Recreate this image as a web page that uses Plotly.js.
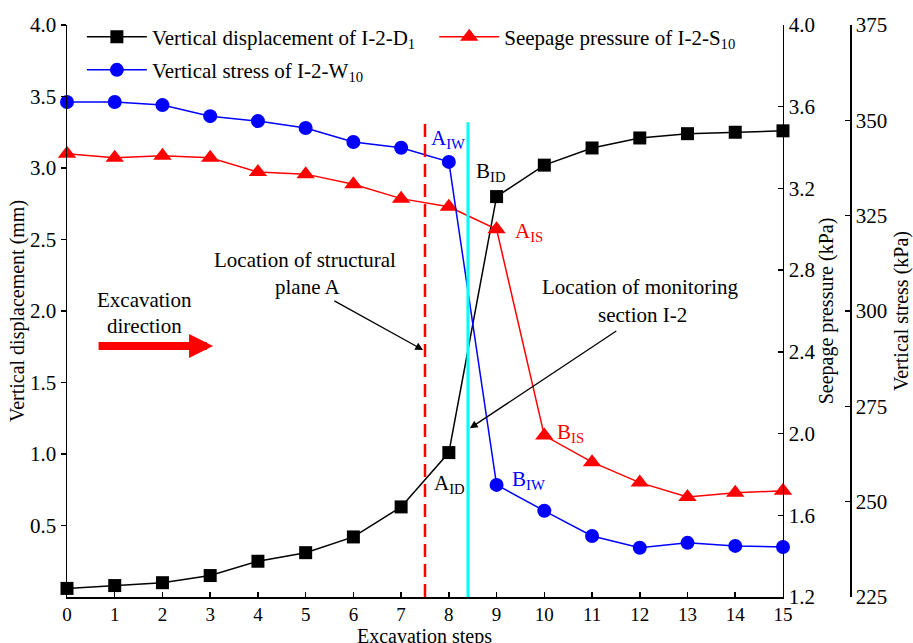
<!DOCTYPE html>
<html>
<head>
<meta charset="utf-8">
<script src="https://cdn.plot.ly/plotly-3.0.1.min.js"></script>
<style>html,body{margin:0;padding:0;background:#fff;}#chart{width:913px;height:643px;}</style>
</head>
<body>
<div id="chart"></div>
<script>
// Data
const steps = [0,1,2,3,4,5,6,7,8,9,10,11,12,13,14,15];
const displacement = [0.06,0.08,0.10,0.15,0.25,0.31,0.42,0.63,1.01,2.80,3.02,3.14,3.21,3.24,3.25,3.26];
const seepage = [3.37,3.35,3.36,3.35,3.28,3.27,3.22,3.15,3.11,3.00,1.99,1.86,1.76,1.69,1.71,1.72];
const stress = [354.8,354.8,354.0,351.1,349.8,348.0,344.3,342.8,339.1,254.4,247.6,241.0,237.9,239.2,238.4,238.1];
const seriesNames = ['Vertical displacement of I-2-D<sub>1</sub>','Seepage pressure of I-2-S<sub>10</sub>','Vertical stress of I-2-W<sub>10</sub>'];
const xTicks = [0,1,2,3,4,5,6,7,8,9,10,11,12,13,14,15];
const leftTicks = [0.5,1.0,1.5,2.0,2.5,3.0,3.5,4.0];
const seepTicks = [1.2,1.6,2.0,2.4,2.8,3.2,3.6,4.0];
const stressTicks = [225,250,275,300,325,350,375];

const F = '"Liberation Serif", "Times New Roman", serif';
const FS = 21;
const traces = [
  {x: steps, y: displacement, name: seriesNames[0], yaxis: 'y', legend: 'legend', mode: 'lines+markers',
   line: {color: '#000', width: 1.5}, marker: {symbol: 'square', size: 13, color: '#000'}, cliponaxis: false},
  {x: steps, y: seepage, name: seriesNames[1], yaxis: 'y2', legend: 'legend2', mode: 'lines+markers',
   line: {color: '#ff0000', width: 1.5}, marker: {symbol: 'triangle-up', size: 16, color: '#ff0000'}, cliponaxis: false},
  {x: steps, y: stress, name: seriesNames[2], yaxis: 'y3', legend: 'legend3', mode: 'lines+markers',
   line: {color: '#0000ff', width: 1.5}, marker: {symbol: 'circle', size: 14, color: '#0000ff'}, cliponaxis: false}
];

const axBase = {showgrid: false, zeroline: false, showline: true, linecolor: '#000', linewidth: 1.5,
  ticks: 'outside', ticklen: 5, tickwidth: 1.5, tickcolor: '#000', tickfont: {family: F, size: FS, color: '#000'}};

function ann(text, x, y, color, extra) {
  return Object.assign({text: text, x: x, y: y, xref: 'x', yref: 'y', showarrow: false,
    font: {family: F, size: FS, color: color}}, extra || {});
}
function leg(x, y) {
  return {orientation: 'h', x: x, y: y, xanchor: 'left', yanchor: 'middle', bgcolor: 'rgba(0,0,0,0)',
    font: {family: F, size: FS, color: '#000'}, borderwidth: 0, itemwidth: 60};
}

const layout = {
  width: 913, height: 643,
  margin: {l: 67, r: 63, t: 25, b: 46},
  paper_bgcolor: '#fff', plot_bgcolor: '#fff',
  font: {family: F, color: '#000'},
  showlegend: true,
  legend: leg(0.019, 0.979),
  legend2: leg(0.469, 0.979),
  legend3: leg(0.019, 0.921),
  xaxis: Object.assign({}, axBase, {domain: [0, 0.9144], range: [0, 15], tickvals: xTicks, ticks: 'inside',
    tickfont: {family: F, size: 19, color: '#000'}}),
  yaxis: Object.assign({}, axBase, {range: [0, 4], tickvals: leftTicks, ticktext: leftTicks.map(v => v.toFixed(1)),
    title: {text: 'Vertical displacement (mm)', font: {family: F, size: 20}, standoff: 0}}),
  yaxis2: Object.assign({}, axBase, {range: [1.2, 4.0], tickvals: seepTicks, ticktext: seepTicks.map(v => v.toFixed(1)),
    overlaying: 'y', side: 'right', anchor: 'x', ticks: 'inside',
    title: {text: 'Seepage pressure (kPa)', font: {family: F, size: 20}, standoff: 0}}),
  yaxis3: Object.assign({}, axBase, {range: [225, 375], tickvals: stressTicks,
    overlaying: 'y', side: 'right', anchor: 'free', position: 1.0, ticks: 'inside',
    title: {text: 'Vertical stress (kPa)', font: {family: F, size: 20}, standoff: 8}}),
  shapes: [
    {type: 'line', xref: 'x', yref: 'y', x0: 7.5, x1: 7.5, y0: 0, y1: 3.34,
     line: {color: '#ff0000', width: 2.5, dash: '13px,7px'}},
    {type: 'line', xref: 'x', yref: 'y', x0: 8.4, x1: 8.4, y0: 0, y1: 3.32,
     line: {color: '#00ffff', width: 3}}
  ],
  annotations: [
    // x-axis title (placed as annotation so it can sit just below the tick labels)
    {text: 'Excavation steps', xref: 'x domain', yref: 'y domain', x: 0.5, y: 0, xanchor: 'center', yanchor: 'top',
     yshift: -26, showarrow: false, font: {family: F, size: 20, color: '#000'}},
    ann('A<sub>IW</sub>', 7.98, 3.2, '#0000ff'),
    ann('B<sub>ID</sub>', 8.88, 2.97, '#000'),
    ann('A<sub>IS</sub>', 9.68, 2.55, '#ff0000'),
    ann('B<sub>IS</sub>', 10.54, 1.15, '#ff0000'),
    ann('A<sub>ID</sub>', 8.02, 0.79, '#000'),
    ann('B<sub>IW</sub>', 9.66, 0.82, '#0000ff'),
    ann('Location of structural', 4.99, 2.357, '#000'),
    ann('plane A', 5.05, 2.168, '#000'),
    ann('Location of monitoring', 12.0, 2.168, '#000'),
    ann('section I-2', 12.06, 1.972, '#000'),
    ann('Excavation', 1.63, 2.077, '#000'),
    ann('direction', 1.63, 1.895, '#000'),
    ann('', 7.46, 1.727, '#000', {showarrow: true, axref: 'x', ayref: 'y', ax: 5.57, ay: 2.077,
      arrowhead: 2, arrowsize: 1.2, arrowwidth: 1.3, arrowcolor: '#000'}),
    ann('', 8.44, 1.18, '#000', {showarrow: true, axref: 'x', ayref: 'y', ax: 11.54, ay: 1.867,
      arrowhead: 2, arrowsize: 1.2, arrowwidth: 1.3, arrowcolor: '#000'}),
    ann('', 3.06, 1.755, '#ff0000', {showarrow: true, axref: 'x', ayref: 'y', ax: 0.63, ay: 1.755,
      arrowhead: 2, arrowsize: 0.6, arrowwidth: 8, arrowcolor: '#ff0000'})
  ]
};

Plotly.newPlot('chart', traces, layout, {displayModeBar: false, staticPlot: true});
</script>
</body>
</html>
